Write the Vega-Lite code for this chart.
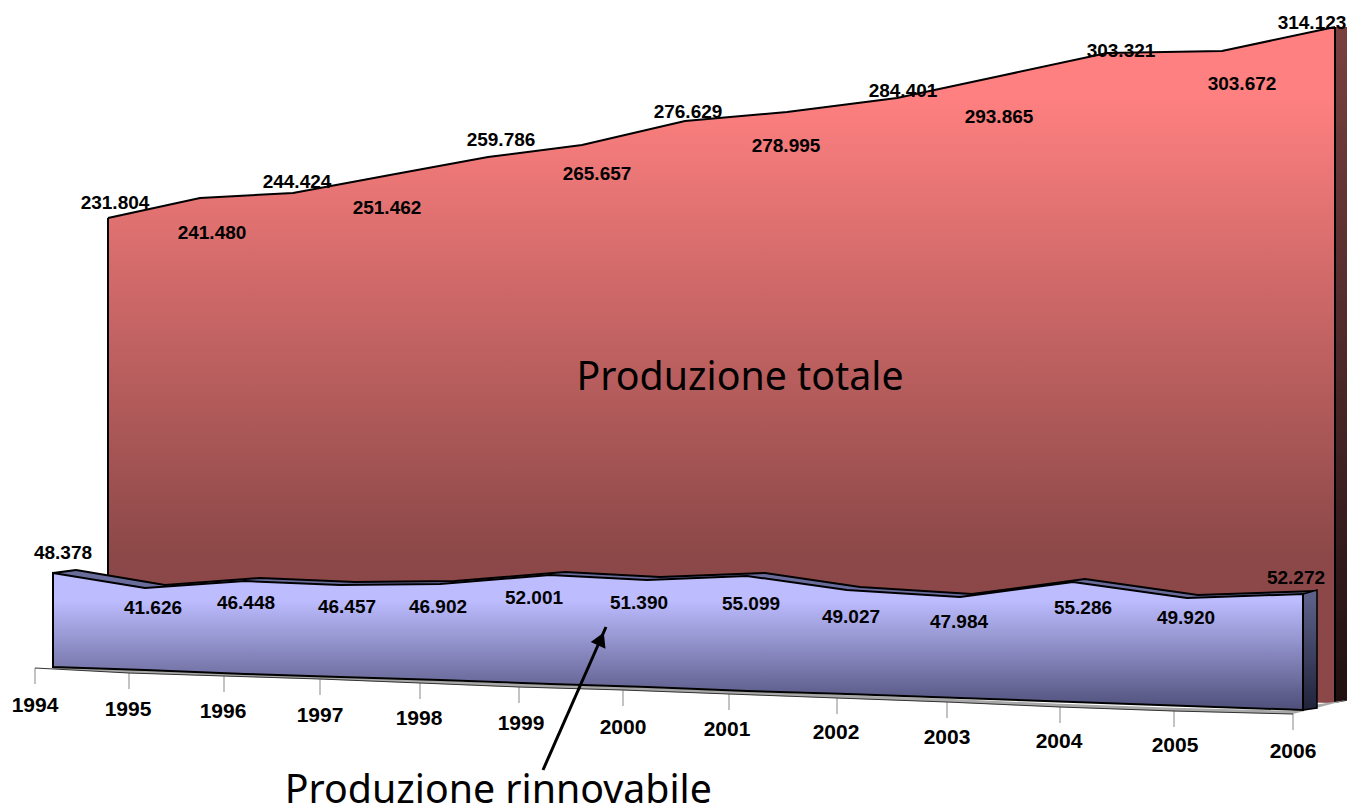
{
"$schema":"https://vega.github.io/schema/vega-lite/v6.json",
"width":1347,"height":809,"padding":0,"autosize":{"type":"none"},"background":"white",
"config":{"view":{"stroke":null}},
"datasets":{
"years":[
{"year":1994,"total":231.804,"renewable":48.378,"renewable_projected":48.378,"floor_projected":8.296,"total_floor":43.34},
{"year":1995,"total":241.480,"renewable":41.626,"renewable_projected":41.982,"floor_projected":7.017,"total_floor":41.89},
{"year":1996,"total":244.424,"renewable":46.448,"renewable_projected":44.967,"floor_projected":5.312,"total_floor":40.44},
{"year":1997,"total":251.462,"renewable":46.457,"renewable_projected":43.261,"floor_projected":4.032,"total_floor":38.94},
{"year":1998,"total":259.786,"renewable":46.902,"renewable_projected":43.688,"floor_projected":2.753,"total_floor":37.42},
{"year":1999,"total":265.657,"renewable":52.001,"renewable_projected":47.525,"floor_projected":1.048,"total_floor":35.92},
{"year":2000,"total":276.629,"renewable":51.390,"renewable_projected":45.393,"floor_projected":-0.232,"total_floor":34.3},
{"year":2001,"total":278.995,"renewable":55.099,"renewable_projected":47.099,"floor_projected":-1.937,"total_floor":32.72},
{"year":2002,"total":284.401,"renewable":49.027,"renewable_projected":41.129,"floor_projected":-3.216,"total_floor":30.97},
{"year":2003,"total":293.865,"renewable":47.984,"renewable_projected":38.144,"floor_projected":-4.922,"total_floor":29.35},
{"year":2004,"total":303.321,"renewable":55.286,"renewable_projected":44.540,"floor_projected":-6.628,"total_floor":27.69},
{"year":2005,"total":303.672,"renewable":49.920,"renewable_projected":37.718,"floor_projected":-8.333,"total_floor":25.9},
{"year":2006,"total":314.123,"renewable":52.272,"renewable_projected":39.424,"floor_projected":-10.039,"total_floor":25}
],
"totalSide":[{"depth":0,"top":314.123,"bottom":25},{"depth":1,"top":314.123,"bottom":26}],
"renewableSide":[{"depth":0,"top":39.424,"bottom":-10.039},{"depth":1,"top":41.13,"bottom":-9.186}],
"renewableTopLeft":[{"depth":0,"top":48.378,"bottom":48.378},{"depth":1,"top":49.657,"bottom":46.78}],
"floorSide":[{"depth":0,"top":-9.19,"bottom":-11.74},{"depth":1,"top":-5.77,"bottom":-5.77}],
"notes":[
{"label":"Produzione totale","year":2000.54,"level":131.5},
{"label":"Produzione rinnovabile","year":1998.11,"level":-44.6}
],
"arrow":[{"year":1998.585,"level":-35.62,"year2":1999.233,"level2":25.35}],
"arrowHead":[{"year":1999.184,"level":20.24}]
},
"data":{"name":"years"},
"layer":[
{"data":{"name":"totalSide"},
 "mark":{"type":"area","orient":"vertical","color":{"gradient":"linear","x1":0,"y1":0,"x2":0,"y2":1,"stops":[{"offset":0,"color":"#7a4040"},{"offset":1,"color":"#201010"}]}},
 "encoding":{"x":{"field":"depth","type":"quantitative","axis":null,"scale":{"domain":[0,1],"range":[1335,1347],"zero":false,"nice":false}},
 "y":{"field":"top","type":"quantitative","axis":null,"scale":{"domain":[25,231.804,241.48,244.424,251.462,259.786,265.657,276.629,278.995,284.401,293.865,303.321,303.672,314.123],"range":[703,218,198,193,175,157,145,121,112,98,76,53,51,27],"zero":false,"nice":false}},
 "y2":{"field":"bottom"}}},
{"mark":{"type":"area","orient":"vertical","color":{"gradient":"linear","x1":0,"y1":0,"x2":0,"y2":1,"stops":[{"offset":0,"color":"#ff8080"},{"offset":0.1,"color":"#ff8080"},{"offset":0.78,"color":"#8c4848"},{"offset":1,"color":"#8c4848"}]}},
 "encoding":{"x":{"field":"year","type":"quantitative","axis":null,"scale":{"domain":[1994,1995,1996,1997,1998,1999,2000,2001,2002,2003,2004,2005,2006],"range":[108,200,293,390,488,582,685,787,897,1000,1107,1222,1335],"zero":false,"nice":false}},
 "y":{"field":"total","type":"quantitative","axis":null,"scale":{"domain":[25,231.804,241.48,244.424,251.462,259.786,265.657,276.629,278.995,284.401,293.865,303.321,303.672,314.123],"range":[703,218,198,193,175,157,145,121,112,98,76,53,51,27],"zero":false,"nice":false}},
 "y2":{"field":"total_floor"}}},
{"mark":{"type":"line","color":"black","strokeWidth":2},
 "encoding":{"x":{"field":"year","type":"quantitative","axis":null,"scale":{"domain":[1994,1995,1996,1997,1998,1999,2000,2001,2002,2003,2004,2005,2006],"range":[108,200,293,390,488,582,685,787,897,1000,1107,1222,1335],"zero":false,"nice":false}},
 "y":{"field":"total","type":"quantitative","axis":null,"scale":{"domain":[25,231.804,241.48,244.424,251.462,259.786,265.657,276.629,278.995,284.401,293.865,303.321,303.672,314.123],"range":[703,218,198,193,175,157,145,121,112,98,76,53,51,27],"zero":false,"nice":false}}}},
{"transform":[{"filter":"datum.year==1994||datum.year==2006"}],
 "mark":{"type":"rule","color":"black","strokeWidth":2},
 "encoding":{"x":{"field":"year","type":"quantitative","axis":null,"scale":{"domain":[1994,1995,1996,1997,1998,1999,2000,2001,2002,2003,2004,2005,2006],"range":[108,200,293,390,488,582,685,787,897,1000,1107,1222,1335],"zero":false,"nice":false}},
 "y":{"field":"total","type":"quantitative","axis":null,"scale":{"domain":[25,231.804,241.48,244.424,251.462,259.786,265.657,276.629,278.995,284.401,293.865,303.321,303.672,314.123],"range":[703,218,198,193,175,157,145,121,112,98,76,53,51,27],"zero":false,"nice":false}},
 "y2":{"field":"total_floor"}}},
{"data":{"name":"floorSide"},
 "mark":{"type":"area","orient":"vertical","color":"#a9a9a9"},
 "encoding":{"x":{"field":"depth","type":"quantitative","axis":null,"scale":{"domain":[0,1],"range":[1293,1347],"zero":false,"nice":false}},
 "y":{"field":"top","type":"quantitative","axis":null,"scale":{"domain":[-52.25,292.71],"range":[809,0],"zero":false,"nice":false}},
 "y2":{"field":"bottom"}}},
{"mark":{"type":"tick","orient":"vertical","size":16,"thickness":1,"color":"#555555"},
 "encoding":{"x":{"field":"year","type":"quantitative","axis":null,"scale":{"domain":[1994,1995,1996,1997,1998,1999,2000,2001,2002,2003,2004,2005,2006],"range":[35,129,224,320,420,519,623,729,837,947,1060,1174,1293],"zero":false,"nice":false}},
 "y":{"field":"year","type":"quantitative","axis":null,"scale":{"domain":[1994,1995,1996,1997,1998,1999,2000,2001,2002,2003,2004,2005,2006],"range":[676,681,684,687,691,695,698,702,706,710,715,719,722],"zero":false,"nice":false}}}},
{"mark":{"type":"line","color":"#a8a8a8","strokeWidth":3.5},
 "encoding":{"x":{"field":"year","type":"quantitative","axis":null,"scale":{"domain":[1994,1995,1996,1997,1998,1999,2000,2001,2002,2003,2004,2005,2006],"range":[53,129,224,320,420,519,623,729,837,947,1060,1174,1293],"zero":false,"nice":false}},
 "y":{"field":"year","type":"quantitative","axis":null,"scale":{"domain":[1994,1995,1996,1997,1998,1999,2000,2001,2002,2003,2004,2005,2006],"range":[667,671.5,674.5,677.5,681.5,685.5,688.5,692.5,696.5,700.5,705.5,709.5,712.5],"zero":false,"nice":false}}}},
{"mark":{"type":"line","color":"#333333","strokeWidth":1},
 "encoding":{"x":{"field":"year","type":"quantitative","axis":null,"scale":{"domain":[1994,1995,1996,1997,1998,1999,2000,2001,2002,2003,2004,2005,2006],"range":[35,129,224,320,420,519,623,729,837,947,1060,1174,1293],"zero":false,"nice":false}},
 "y":{"field":"year","type":"quantitative","axis":null,"scale":{"domain":[1994,1995,1996,1997,1998,1999,2000,2001,2002,2003,2004,2005,2006],"range":[668,673,676,679,683,687,690,694,698,702,707,711,714],"zero":false,"nice":false}}}},
{"mark":{"type":"area","orient":"vertical","color":"#6a6c9c"},
 "encoding":{"x":{"field":"year","type":"quantitative","axis":null,"scale":{"domain":[1994,1995,1996,1997,1998,1999,2000,2001,2002,2003,2004,2005,2006],"range":[76,165,260,355,455,565,660,765,860,972,1085,1198,1317],"zero":false,"nice":false}},
 "y":{"field":"renewable_projected","type":"quantitative","axis":null,"scale":{"domain":[-52.25,292.71],"range":[806,-3],"zero":false,"nice":false}},
 "y2":{"field":"floor_projected"}}},
{"mark":{"type":"line","color":"black","strokeWidth":2},
 "encoding":{"x":{"field":"year","type":"quantitative","axis":null,"scale":{"domain":[1994,1995,1996,1997,1998,1999,2000,2001,2002,2003,2004,2005,2006],"range":[76,165,260,355,455,565,660,765,860,972,1085,1198,1317],"zero":false,"nice":false}},
 "y":{"field":"renewable_projected","type":"quantitative","axis":null,"scale":{"domain":[-52.25,292.71],"range":[806,-3],"zero":false,"nice":false}}}},
{"data":{"name":"renewableTopLeft"},
 "mark":{"type":"area","orient":"vertical","color":"#6a6c9c"},
 "encoding":{"x":{"field":"depth","type":"quantitative","axis":null,"scale":{"domain":[0,1],"range":[53,76],"zero":false,"nice":false}},
 "y":{"field":"top","type":"quantitative","axis":null,"scale":{"domain":[-52.25,292.71],"range":[809,0],"zero":false,"nice":false}},
 "y2":{"field":"bottom"}}},
{"data":{"name":"renewableTopLeft"},
 "mark":{"type":"line","color":"black","strokeWidth":2},
 "encoding":{"x":{"field":"depth","type":"quantitative","axis":null,"scale":{"domain":[0,1],"range":[53,76],"zero":false,"nice":false}},
 "y":{"field":"top","type":"quantitative","axis":null,"scale":{"domain":[-52.25,292.71],"range":[809,0],"zero":false,"nice":false}}}},
{"data":{"name":"renewableSide"},
 "mark":{"type":"area","orient":"vertical","stroke":"black","strokeWidth":1.5,"color":{"gradient":"linear","x1":0,"y1":0,"x2":0,"y2":1,"stops":[{"offset":0,"color":"#60648c"},{"offset":1,"color":"#20233a"}]}},
 "encoding":{"x":{"field":"depth","type":"quantitative","axis":null,"scale":{"domain":[0,1],"range":[1303,1317],"zero":false,"nice":false}},
 "y":{"field":"top","type":"quantitative","axis":null,"scale":{"domain":[-52.25,292.71],"range":[809,0],"zero":false,"nice":false}},
 "y2":{"field":"bottom"}}},
{"mark":{"type":"area","orient":"vertical","stroke":"black","strokeWidth":2,"color":{"gradient":"linear","x1":0,"y1":0,"x2":0,"y2":1,"stops":[{"offset":0,"color":"#bcbcff"},{"offset":0.2,"color":"#bcbcff"},{"offset":1,"color":"#4f4f7a"}]}},
 "encoding":{"x":{"field":"year","type":"quantitative","axis":null,"scale":{"domain":[1994,1995,1996,1997,1998,1999,2000,2001,2002,2003,2004,2005,2006],"range":[53,145,245,340,440,550,647,747,847,960,1073,1187,1303],"zero":false,"nice":false}},
 "y":{"field":"renewable_projected","type":"quantitative","axis":null,"scale":{"domain":[-52.25,292.71],"range":[809,0],"zero":false,"nice":false}},
 "y2":{"field":"floor_projected"}}},
{"mark":{"type":"text","font":"Liberation Sans","fontWeight":"bold","fontSize":19,"color":"black","align":"center","baseline":"middle"},
 "encoding":{"text":{"field":"total","type":"quantitative","format":".3f"},
 "x":{"field":"year","type":"quantitative","axis":null,"scale":{"domain":[1994,1995,1996,1997,1998,1999,2000,2001,2002,2003,2004,2005,2006],"range":[115,212,297,387,501,597,688,786,903,999,1121,1242,1312],"zero":false,"nice":false}},
 "y":{"field":"year","type":"quantitative","axis":null,"scale":{"domain":[1994,1995,1996,1997,1998,1999,2000,2001,2002,2003,2004,2005,2006],"range":[203,233,182,208,140,174,112,146,91,117,51,84,23],"zero":false,"nice":false}}}},
{"mark":{"type":"text","font":"Liberation Sans","fontWeight":"bold","fontSize":19,"color":"black","align":"center","baseline":"middle"},
 "encoding":{"text":{"field":"renewable","type":"quantitative","format":".3f"},
 "x":{"field":"year","type":"quantitative","axis":null,"scale":{"domain":[1994,1995,1996,1997,1998,1999,2000,2001,2002,2003,2004,2005,2006],"range":[63,153,246,347,438,534,639,751,851,959,1083,1186,1296],"zero":false,"nice":false}},
 "y":{"field":"year","type":"quantitative","axis":null,"scale":{"domain":[1994,1995,1996,1997,1998,1999,2000,2001,2002,2003,2004,2005,2006],"range":[553,608,603,607,607,598,603,604,617,622,608,618,578],"zero":false,"nice":false}}}},
{"mark":{"type":"text","font":"Liberation Sans","fontWeight":"bold","fontSize":21,"color":"black","align":"center","baseline":"middle"},
 "encoding":{"text":{"field":"year","type":"nominal"},
 "x":{"field":"year","type":"quantitative","axis":null,"scale":{"domain":[1994,1995,1996,1997,1998,1999,2000,2001,2002,2003,2004,2005,2006],"range":[35,128,223,320,419,521,623,727,836,947,1059,1175,1293],"zero":false,"nice":false}},
 "y":{"field":"year","type":"quantitative","axis":null,"scale":{"domain":[1994,1995,1996,1997,1998,1999,2000,2001,2002,2003,2004,2005,2006],"range":[706,710,712,716,719,724,728,730,733,738,742,746,752],"zero":false,"nice":false}}}},
{"data":{"name":"arrow"},
 "mark":{"type":"rule","color":"black","strokeWidth":3},
 "encoding":{"x":{"field":"year","type":"quantitative","axis":null,"scale":{"domain":[1994,1995,1996,1997,1998,1999,2000,2001,2002,2003,2004,2005,2006],"range":[108,200,293,390,488,582,685,787,897,1000,1107,1222,1335],"zero":false,"nice":false}},
 "x2":{"field":"year2"},
 "y":{"field":"level","type":"quantitative","axis":null,"scale":{"domain":[-52.25,292.71],"range":[809,0],"zero":false,"nice":false}},
 "y2":{"field":"level2"}}},
{"data":{"name":"arrowHead"},
 "mark":{"type":"point","shape":"triangle-up","filled":true,"color":"black","opacity":1,"size":260,"angle":24},
 "encoding":{"x":{"field":"year","type":"quantitative","axis":null,"scale":{"domain":[1994,1995,1996,1997,1998,1999,2000,2001,2002,2003,2004,2005,2006],"range":[108,200,293,390,488,582,685,787,897,1000,1107,1222,1335],"zero":false,"nice":false}},
 "y":{"field":"level","type":"quantitative","axis":null,"scale":{"domain":[-52.25,292.71],"range":[809,0],"zero":false,"nice":false}}}},
{"data":{"name":"notes"},
 "mark":{"type":"text","font":"Noto Sans","fontSize":39.3,"color":"black","align":"center","baseline":"middle"},
 "encoding":{"text":{"field":"label","type":"nominal"},
 "x":{"field":"year","type":"quantitative","axis":null,"scale":{"domain":[1994,1995,1996,1997,1998,1999,2000,2001,2002,2003,2004,2005,2006],"range":[108,200,293,390,488,582,685,787,897,1000,1107,1222,1335],"zero":false,"nice":false}},
 "y":{"field":"level","type":"quantitative","axis":null,"scale":{"domain":[-52.25,292.71],"range":[809,0],"zero":false,"nice":false}}}}
],
"resolve":{"scale":{"x":"independent","y":"independent"}}
}
